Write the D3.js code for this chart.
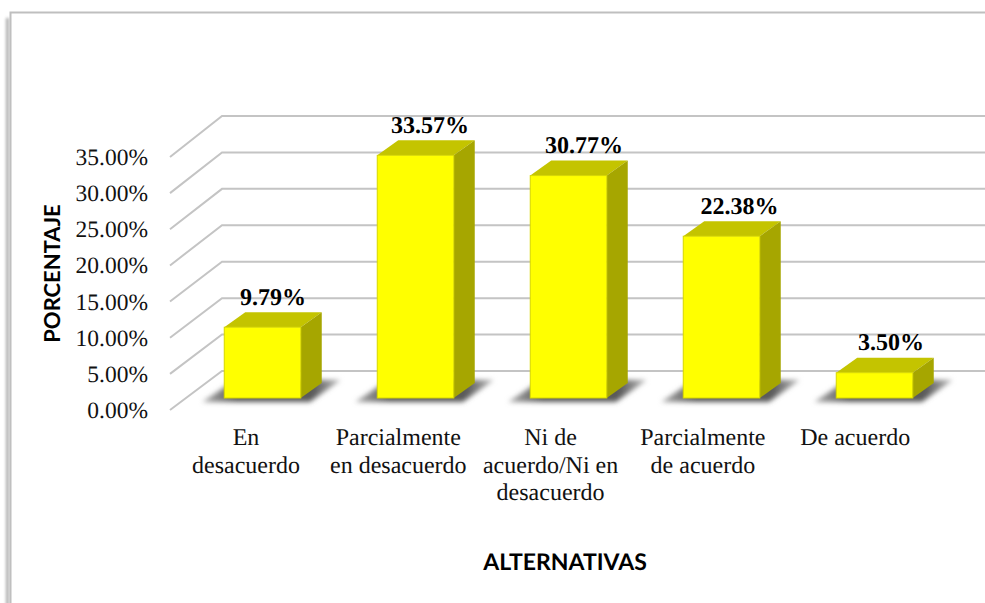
<!DOCTYPE html>
<html>
<head>
<meta charset="utf-8">
<script src="https://cdn.jsdelivr.net/npm/d3@7"></script>
<style>
  html, body { margin: 0; padding: 0; background: #fff; overflow: hidden; }
  svg { display: block; }
  text { text-rendering: geometricPrecision; }
</style>
</head>
<body>
<div id="chart"></div>
<script>
// data
const categories = ["En desacuerdo", "Parcialmente en desacuerdo", "Ni de acuerdo/Ni en desacuerdo", "Parcialmente de acuerdo", "De acuerdo"];
const categoryLines = [["En", "desacuerdo"], ["Parcialmente", "en desacuerdo"], ["Ni de", "acuerdo/Ni en", "desacuerdo"], ["Parcialmente", "de acuerdo"], ["De acuerdo"]];
const percentages = [9.79, 33.57, 30.77, 22.38, 3.50];
const yTicks = [0, 5, 10, 15, 20, 25, 30, 35];
const yTitle = "PORCENTAJE";
const xTitle = "ALTERNATIVAS";

const width = 985, height = 603;

const svg = d3.select("#chart").append("svg")
    .attr("width", width)
    .attr("height", height);

const defs = svg.append("defs");
defs.append("filter").attr("id", "blur2").attr("x", "-20%").attr("y", "-50%").attr("width", "140%").attr("height", "200%")
    .append("feGaussianBlur").attr("stdDeviation", 2.6);
defs.append("filter").attr("id", "blurFrame").attr("x", "-300%").attr("width", "700%")
    .append("feGaussianBlur").attr("stdDeviation", 1.6);
const shadowGrad = defs.append("linearGradient").attr("id", "shadowGrad").attr("x1", 0).attr("x2", 1).attr("y1", 0).attr("y2", 0);
shadowGrad.append("stop").attr("offset", "0%").attr("stop-color", "#aaa");
shadowGrad.append("stop").attr("offset", "25%").attr("stop-color", "#5a5a5a");
shadowGrad.append("stop").attr("offset", "80%").attr("stop-color", "#5a5a5a");
shadowGrad.append("stop").attr("offset", "100%").attr("stop-color", "#bbb");

// scales: y is the front edge of the side wall, yBack its back edge
const y = d3.scaleLinear().domain([0, 35]).range([410, 157]);
const yBack = d3.scaleLinear().domain([0, 35]).range([371, 116]);
const x = d3.scaleBand().domain(categories).range([186, 951]).paddingInner(0.5).paddingOuter(0.25);
const sideLeft = 170, sideRight = 222;
const barDepth = {dx: 21, dy: -15};
const barBase = 398;
const pxPerUnit = y(0) - y(1);

// chart frame
svg.append("rect").attr("x", 6).attr("y", 18).attr("width", 3).attr("height", height)
    .attr("fill", "#aaa").attr("filter", "url(#blurFrame)");
svg.append("path")
    .attr("d", `M10.5,${height}V12.5H${width}`)
    .attr("fill", "none").attr("stroke", "#bfbfbf").attr("stroke-width", 2);

// gridlines on the side and back wall
const grid = svg.append("g").attr("fill", "none").attr("stroke", "#c4c4c4").attr("stroke-width", 2);
grid.selectAll("path").data(yTicks).join("path")
    .attr("d", d => `M${sideLeft},${y(d)}L${sideRight},${yBack(d)}H${width}`);

// y axis labels
const yAxis = d3.axisLeft(y).tickValues(yTicks).tickSize(0).tickPadding(0)
    .tickFormat(d => d3.format(".2f")(d) + "%");
svg.append("g").attr("transform", "translate(148,0)").call(yAxis)
    .call(g => g.select(".domain").remove())
    .selectAll("text")
    .attr("font-family", "'Liberation Serif'")
    .attr("font-size", 23.5)
    .attr("fill", "#111");

// floor shadows
const barWidth = x.bandwidth();
svg.append("g").selectAll("path").data(categories).join("path")
    .attr("d", c => {
      const l = x(c), r = l + barWidth;
      return `M${l - 22},402H${r + 9}L${r + 40},380H${l + 11}Z`;
    })
    .attr("fill", "url(#shadowGrad)")
    .attr("filter", "url(#blur2)");

// bars
const bars = svg.append("g").selectAll("g").data(percentages).join("g");
const barTop = d => barBase - d * pxPerUnit;
bars.append("path") // top
    .attr("d", (d, i) => {
      const l = x(categories[i]), r = l + barWidth, t = barTop(d);
      return `M${l},${t}L${l + barDepth.dx},${t + barDepth.dy}H${r + barDepth.dx}L${r},${t}Z`;
    })
    .attr("fill", "#c4c400");
bars.append("path") // side
    .attr("d", (d, i) => {
      const r = x(categories[i]) + barWidth, t = barTop(d);
      return `M${r},${t}L${r + barDepth.dx},${t + barDepth.dy}V${barBase + barDepth.dy}L${r},${barBase}Z`;
    })
    .attr("fill", "#a6a600");
bars.append("rect") // front
    .attr("x", (d, i) => x(categories[i]))
    .attr("y", d => barTop(d))
    .attr("width", barWidth)
    .attr("height", d => d * pxPerUnit)
    .attr("fill", "#ffff00")
    .attr("stroke", "#d6d600")
    .attr("stroke-width", 1);

// value labels, hand placed in the original so each has its own nudge
const labelNudge = [1.5, 5.5, 6.5, 9, 7.5];
bars.append("text")
    .attr("x", (d, i) => x(categories[i]) + barWidth / 2 + 9 + labelNudge[i])
    .attr("y", d => barTop(d) - 22.5)
    .attr("text-anchor", "middle")
    .attr("font-family", "'Liberation Serif'")
    .attr("font-weight", "bold")
    .attr("font-size", 24)
    .attr("fill", "#000")
    .text(d => d.toFixed(2) + "%");

// category labels
const catLabels = svg.append("g").selectAll("text").data(categories).join("text")
    .attr("text-anchor", "middle")
    .attr("font-family", "'Liberation Serif'")
    .attr("font-size", 24)
    .attr("fill", "#111");
catLabels.selectAll("tspan").data((c, i) => categoryLines[i].map(t => ({c, t, k: i}))).join("tspan")
    .attr("x", d => x(d.c) + barWidth / 2 - 16.5 - d.k * 0.7)
    .attr("y", (d, i) => 445 + i * 27.7)
    .text(d => d.t);

// axis titles
svg.append("text")
    .attr("transform", "translate(60,273.5) rotate(-90)")
    .attr("text-anchor", "middle")
    .attr("font-family", "Lato")
    .attr("font-weight", "bold")
    .attr("font-size", 22)
    .attr("fill", "#000")
    .text(yTitle);
svg.append("text")
    .attr("x", 565)
    .attr("y", 570)
    .attr("text-anchor", "middle")
    .attr("font-family", "Lato")
    .attr("font-weight", "bold")
    .attr("font-size", 23)
    .attr("fill", "#000")
    .text(xTitle);
</script>
</body>
</html>
